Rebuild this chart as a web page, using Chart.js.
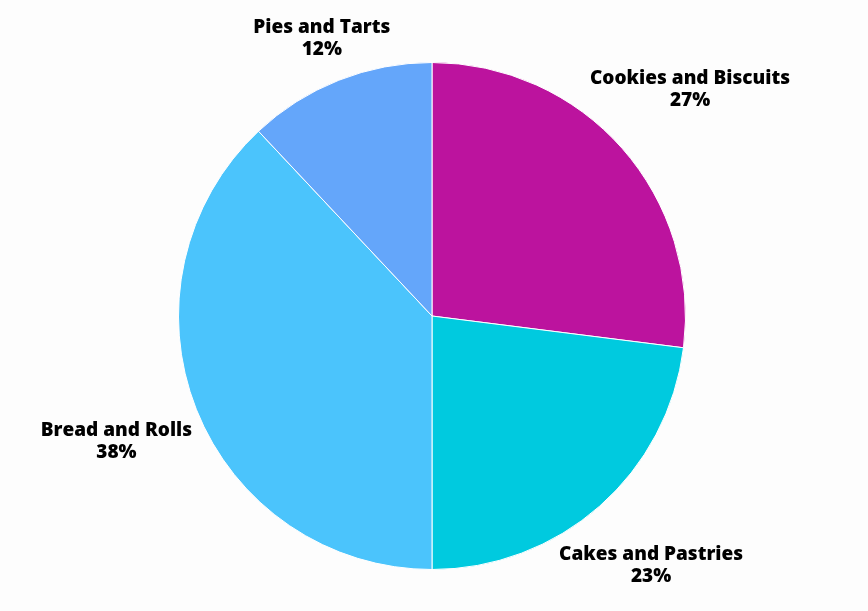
<!DOCTYPE html>
<html>
<head>
<meta charset="utf-8">
<script src="https://cdn.jsdelivr.net/npm/chart.js@4/dist/chart.umd.min.js"></script>
<style>
  html, body { margin: 0; padding: 0; background: #fdfdfd; }
  #wrap { width: 868px; height: 611px; position: relative; }
</style>
</head>
<body>
<div id="wrap"><canvas id="c"></canvas></div>
<script>
const categories = ["Cookies and Biscuits", "Cakes and Pastries", "Bread and Rolls", "Pies and Tarts"];
const values = [27, 23, 38, 12];
const colors = ["#bc139e", "#00cadf", "#4bc4fc", "#64a6fa"];
const labelDistance = [1.357, 1.307, 1.339, 1.181];

const labelPlugin = {
  id: 'outLabels',
  afterDatasetsDraw(chart) {
    const ctx = chart.ctx;
    const meta = chart.getDatasetMeta(0);
    const total = values.reduce((a, b) => a + b, 0);
    ctx.save();
    ctx.font = '800 19px "Open Sans"';
    ctx.fillStyle = '#000';
    ctx.textAlign = 'center';
    ctx.textBaseline = 'middle';
    meta.data.forEach((arc, i) => {
      const p = arc.getProps(['x', 'y', 'startAngle', 'endAngle', 'outerRadius'], true);
      const mid = (p.startAngle + p.endAngle) / 2;
      const r = p.outerRadius * labelDistance[i];
      const cx = p.x + Math.cos(mid) * r;
      const cy = p.y + Math.sin(mid) * r;
      const pct = Math.round(values[i] / total * 100) + '%';
      ctx.fillText(categories[i], cx, cy - 10);
      ctx.fillText(pct, cx, cy + 12);
    });
    ctx.restore();
  }
};

new Chart(document.getElementById('c'), {
  type: 'pie',
  data: {
    labels: categories,
    datasets: [{
      data: values,
      backgroundColor: colors,
      borderColor: '#ffffff',
      borderWidth: 1
    }]
  },
  options: {
    responsive: true,
    maintainAspectRatio: false,
    animation: false,
    layout: { padding: { top: 62, bottom: 41, left: 0, right: 4 } },
    plugins: {
      legend: { display: false },
      tooltip: { enabled: false }
    }
  },
  plugins: [labelPlugin]
});
</script>
</body>
</html>
